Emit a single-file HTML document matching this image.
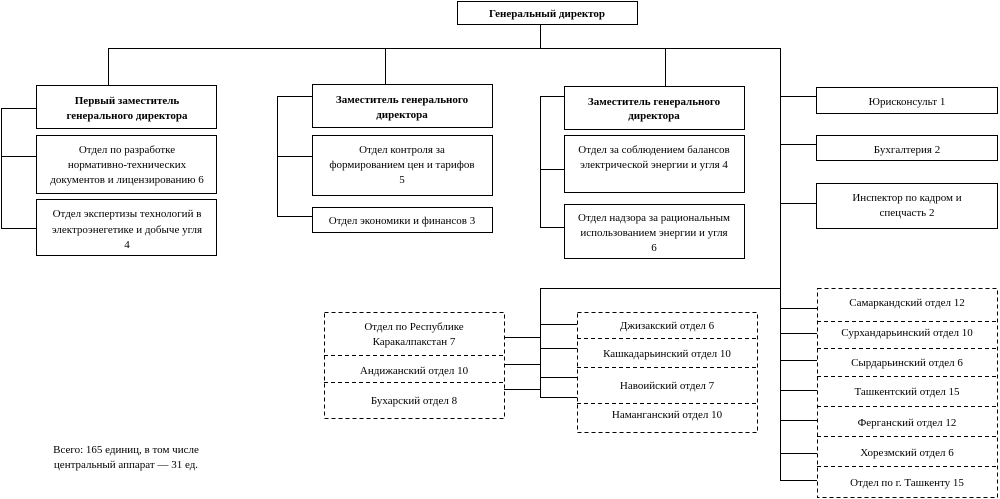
<!DOCTYPE html>
<html><head><meta charset="utf-8"><style>
html,body{margin:0;padding:0;background:#fff;}
svg{display:block;}
text{font-family:"Liberation Serif",serif;font-size:11px;fill:#000;text-anchor:middle;}
.b{font-weight:bold;}
</style></head><body>
<svg width="1000" height="499" viewBox="0 0 1000 499">
<g fill="none" stroke="#000" stroke-width="1" shape-rendering="crispEdges">
<!-- top -->
<rect x="457.5" y="1.5" width="180" height="23"/>
<path d="M540.5 24V48.5M108.5 48.5H780.5M108.5 48V85M385.5 48V84M665.5 48V86M780.5 48V480"/>
<!-- col1 -->
<rect x="36.5" y="85.5" width="180" height="43"/>
<rect x="36.5" y="135.5" width="180" height="58"/>
<rect x="36.5" y="199.5" width="180" height="56"/>
<path d="M1.5 108.5H36M1.5 156.5H36M1.5 228.5H36M1.5 108V229"/>
<!-- col2 -->
<rect x="312.5" y="84.5" width="180" height="43"/>
<rect x="312.5" y="135.5" width="180" height="60"/>
<rect x="312.5" y="207.5" width="180" height="25"/>
<path d="M277.5 96.5H312M277.5 156.5H312M277.5 216.5H312M277.5 96V217"/>
<!-- col3 -->
<rect x="564.5" y="86.5" width="180" height="43"/>
<rect x="564.5" y="135.5" width="180" height="57"/>
<rect x="564.5" y="204.5" width="180" height="54"/>
<path d="M540.5 96.5H564M540.5 169.5H564M540.5 227.5H564M540.5 96V228"/>
<!-- right -->
<rect x="816.5" y="87.5" width="181" height="26"/>
<rect x="816.5" y="135.5" width="181" height="25"/>
<rect x="816.5" y="183.5" width="181" height="45"/>
<path d="M780.5 96.5H816M780.5 144.5H816M780.5 203.5H816"/>
<!-- bottom connectors -->
<path d="M540.5 288.5H780.5M540.5 288V397M504 337.5H540M504 364.5H540M504 389.5H540M540 324.5H577M540 348.5H577M540 377.5H577M540 397.5H577"/>
<path d="M780 308.5H817M780 333.5H817M780 360.5H817M780 390.5H817M780 420.5H817M780 453.5H817M780 480.5H817"/>
</g>
<g fill="none" stroke="#000" stroke-width="1" stroke-dasharray="4,3" shape-rendering="crispEdges">
<rect x="324.5" y="312.5" width="180" height="106"/>
<path d="M324 355.5H505M324 382.5H505"/>
<rect x="577.5" y="312.5" width="180" height="120"/>
<path d="M577 338.5H758M577 367.5H758M577 403.5H758"/>
<rect x="817.5" y="288.5" width="180" height="209"/>
<path d="M817 321.5H998M817 348.5H998M817 376.5H998M817 406.5H998M817 436.5H998M817 466.5H998"/>
</g>
<text class="b" x="547" y="17">Генеральный директор</text>
<text class="b" x="127" y="104">Первый заместитель</text>
<text class="b" x="127" y="119">генерального директора</text>
<text x="127" y="153">Отдел по разработке</text>
<text x="127" y="168">нормативно-технических</text>
<text x="127" y="183">документов и лицензированию 6</text>
<text x="127" y="217">Отдел экспертизы технологий в</text>
<text x="127" y="233">электроэнегетике и добыче угля</text>
<text x="127" y="248">4</text>
<text class="b" x="402" y="103">Заместитель генерального</text>
<text class="b" x="402" y="118">директора</text>
<text x="402" y="153">Отдел контроля за</text>
<text x="402" y="168">формированием цен и тарифов</text>
<text x="402" y="183">5</text>
<text x="402" y="224">Отдел экономики и финансов 3</text>
<text class="b" x="654" y="105">Заместитель генерального</text>
<text class="b" x="654" y="119">директора</text>
<text x="654" y="153">Отдел за соблюдением балансов</text>
<text x="654" y="168">электрической энергии и угля 4</text>
<text x="654" y="221">Отдел надзора за рациональным</text>
<text x="654" y="236">использованием энергии и угля</text>
<text x="654" y="251">6</text>
<text x="907" y="105">Юрисконсульт 1</text>
<text x="907" y="153">Бухгалтерия 2</text>
<text x="907" y="201">Инспектор по кадром и</text>
<text x="907" y="216">спецчасть 2</text>
<text x="414" y="330">Отдел по Республике</text>
<text x="414" y="345">Каракалпакстан 7</text>
<text x="414" y="374">Андижанский отдел 10</text>
<text x="414" y="404">Бухарский отдел 8</text>
<text x="667" y="329">Джизакский отдел 6</text>
<text x="667" y="357">Кашкадарьинский отдел 10</text>
<text x="667" y="389">Навоийский отдел 7</text>
<text x="667" y="418">Наманганский отдел 10</text>
<text x="907" y="306">Самаркандский отдел 12</text>
<text x="907" y="336">Сурхандарьинский отдел 10</text>
<text x="907" y="366">Сырдарьинский отдел 6</text>
<text x="907" y="395">Ташкентский отдел 15</text>
<text x="907" y="426">Ферганский отдел 12</text>
<text x="907" y="456">Хорезмский отдел 6</text>
<text x="907" y="486">Отдел по г. Ташкенту 15</text>
<text x="126" y="453">Всего: 165 единиц, в том числе</text>
<text x="126" y="468">центральный аппарат — 31 ед.</text>
</svg>
</body></html>
